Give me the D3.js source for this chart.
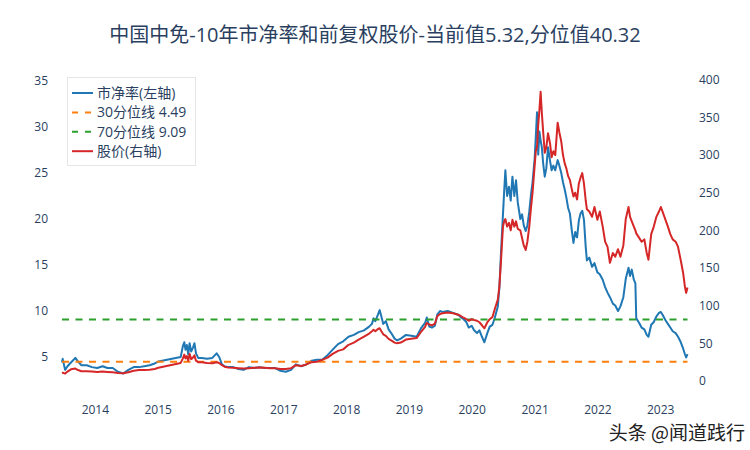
<!DOCTYPE html>
<html>
<head>
<meta charset="utf-8">
<script src="https://cdn.jsdelivr.net/npm/d3@7"></script>
<style>
  html, body { margin: 0; padding: 0; background: #fff; }
  svg { display: block; font-family: "Open Sans", "Noto Sans CJK SC", sans-serif; }
</style>
</head>
<body>
<svg id="chart" width="750" height="450"></svg>
<script>
// ---- data ----
const titleText = "中国中免-10年市净率和前复权股价-当前值5.32,分位值40.32";
const dates = [
"2013-06-24","2013-06-28","2013-07-05","2013-07-12","2013-07-26","2013-08-15","2013-09-10","2013-09-25","2013-10-15","2013-11-15","2013-12-15",
"2014-01-15","2014-02-15","2014-03-15","2014-04-15","2014-05-15","2014-06-15","2014-07-15","2014-08-15","2014-09-15","2014-10-15","2014-11-15","2014-12-15",
"2015-01-05","2015-05-15","2015-05-28","2015-06-05","2015-06-12","2015-06-20","2015-06-28","2015-07-06","2015-07-15","2015-07-25","2015-08-03","2015-08-12","2015-08-25","2015-09-15","2015-10-15","2015-11-15","2015-12-10","2015-12-25",
"2016-01-10","2016-01-25","2016-02-15","2016-03-15","2016-04-15","2016-05-15","2016-06-15","2016-07-15","2016-08-15","2016-09-15","2016-10-15","2016-11-15","2016-12-15",
"2017-01-15","2017-02-15","2017-03-15","2017-04-15","2017-05-15","2017-06-15","2017-07-15","2017-08-15","2017-09-15","2017-10-15","2017-11-15","2017-12-15",
"2018-01-15","2018-02-15","2018-03-15","2018-04-15","2018-05-15","2018-05-31","2018-06-10","2018-06-20","2018-07-05","2018-07-15","2018-07-25","2018-08-05","2018-08-20","2018-09-05","2018-09-20","2018-10-10","2018-10-25","2018-11-15","2018-12-15",
"2019-01-15","2019-02-15","2019-03-15","2019-04-05","2019-04-15","2019-04-30","2019-05-15","2019-06-01","2019-06-15","2019-07-01","2019-07-15","2019-08-15","2019-09-15","2019-10-15","2019-11-01","2019-11-15","2019-12-01","2019-12-15",
"2020-01-01","2020-01-15","2020-02-01","2020-02-15","2020-03-01","2020-03-15","2020-04-01","2020-04-15","2020-05-01","2020-05-15","2020-06-01","2020-06-10","2020-06-20","2020-07-01","2020-07-08","2020-07-15","2020-07-25","2020-08-05","2020-08-15","2020-08-25","2020-09-05","2020-09-15","2020-09-25","2020-10-10","2020-10-20","2020-10-30","2020-11-10","2020-11-20","2020-12-01","2020-12-10","2020-12-20",
"2021-01-01","2021-01-08","2021-01-15","2021-01-22","2021-01-29","2021-02-05","2021-02-12","2021-02-20","2021-03-01","2021-03-10","2021-03-20","2021-04-01","2021-04-10","2021-04-20","2021-05-01","2021-05-15","2021-05-25","2021-06-05","2021-06-15","2021-06-25","2021-07-05","2021-07-15","2021-07-25","2021-08-05","2021-08-15","2021-08-25","2021-09-05","2021-09-15","2021-09-25","2021-10-05","2021-10-15","2021-10-25","2021-11-01","2021-11-15","2021-12-01","2021-12-15",
"2022-01-01","2022-01-15","2022-02-01","2022-02-15","2022-03-01","2022-03-15","2022-04-01","2022-04-15","2022-05-01","2022-05-15","2022-06-01","2022-06-15","2022-07-01","2022-07-10","2022-07-20","2022-08-01","2022-08-10","2022-08-15","2022-09-01","2022-09-15","2022-10-01","2022-10-15","2022-10-25","2022-11-10","2022-11-25","2022-12-10","2022-12-25",
"2023-01-05","2023-01-15","2023-02-01","2023-02-15","2023-03-01","2023-03-15","2023-04-01","2023-04-15","2023-05-01","2023-05-15","2023-05-25","2023-06-01","2023-06-09"
];
const peValues = [
4.4,4.8,4.2,3.6,4.0,4.4,4.9,4.5,4.1,4.1,3.9,
3.8,4.0,3.8,3.8,3.4,3.2,3.6,3.9,3.9,4.0,4.1,4.3,
4.5,5.0,6.2,6.6,5.8,6.3,5.3,6.5,5.6,6.0,6.5,5.4,4.9,4.9,4.8,4.9,5.4,5.0,
4.2,4.0,3.9,3.9,3.7,3.6,3.9,3.8,3.9,3.8,3.8,3.8,3.5,
3.4,3.6,4.2,4.0,4.2,4.6,4.7,4.7,5.2,5.8,6.4,6.7,
7.2,7.4,7.7,7.9,8.3,8.6,9.2,8.9,9.6,10.1,9.4,8.6,8.9,8.0,7.6,7.0,6.8,7.0,7.4,
7.3,7.2,8.2,8.7,9.3,8.3,8.2,8.4,9.6,10.0,9.9,10.0,9.8,9.6,9.3,9.1,8.8,8.2,
8.4,7.9,7.6,7.9,7.2,6.6,7.6,8.3,8.5,9.3,10.5,12.5,16.5,20.5,23.0,25.3,22.5,23.5,22.0,24.6,22.5,24.2,21.8,20.0,20.5,19.3,18.7,19.3,20.8,22.5,24.0,
26.5,29.0,31.6,27.0,29.5,28.5,27.8,26.0,24.6,25.5,27.8,26.3,25.3,25.8,25.3,26.4,25.8,25.0,24.0,23.2,22.3,21.2,20.6,18.8,17.4,18.6,18.0,19.8,20.6,20.9,19.9,17.0,15.5,15.8,14.8,15.2,
14.2,14.0,13.4,12.6,12.0,11.5,10.8,10.6,10.0,10.5,11.5,13.5,14.7,13.8,14.5,13.4,13.0,9.2,8.7,8.2,8.0,7.4,7.2,8.5,8.8,9.4,9.8,
9.9,9.6,9.0,8.6,8.2,7.8,7.6,7.2,6.6,5.9,5.3,4.95,5.32
];
const priceValues = [
10.6,11.0,10.5,9.8,12.5,15.5,16.5,14.5,13.0,13.0,12.5,
12.0,12.5,12.0,11.5,10.6,10.3,11.5,13.5,14.5,14.6,15.0,16.0,
17.5,24.0,30.0,35.0,30.0,33.0,27.0,36.0,29.0,31.0,34.0,27.0,25.0,25.0,24.0,23.5,25.0,24.0,
21.0,19.0,18.0,17.5,17.0,16.5,17.0,17.5,18.0,17.5,17.0,17.0,16.0,
16.0,17.0,21.0,20.0,22.0,25.0,25.5,28.0,31.0,36.0,40.0,42.0,
48.0,51.0,55.0,59.0,63.0,66.0,68.0,66.0,69.0,70.0,66.0,62.0,60.0,56.0,54.0,51.0,50.0,51.0,55.0,
56.0,57.0,66.0,72.0,77.0,75.0,74.0,76.0,86.0,89.0,90.0,91.0,90.0,88.0,86.0,84.0,82.0,80.0,
82.0,81.0,80.0,78.0,74.0,70.0,78.0,82.0,85.0,96.0,108.0,125.0,161.0,205.0,212.0,215.0,205.0,210.0,200.0,214.0,205.0,212.0,202.0,200.0,190.0,180.0,174.0,185.0,205.0,228.0,250.0,
285.0,305.0,311.0,340.0,360.0,384.0,356.0,330.0,303.0,310.0,329.0,315.0,297.0,305.0,300.0,343.0,330.0,318.0,300.0,289.0,282.0,272.0,267.0,255.0,245.0,250.0,241.0,262.0,270.0,276.0,262.0,240.0,228.0,225.0,218.0,231.0,
214.0,225.0,205.0,185.0,178.0,157.0,170.0,165.0,175.0,165.0,180.0,215.0,231.0,218.0,212.0,205.0,200.0,196.0,190.0,185.0,188.0,170.0,161.0,195.0,205.0,218.0,225.0,
231.0,225.0,214.0,205.0,195.0,188.0,185.0,178.0,160.0,143.0,125.0,117.0,124.0
];
const quantileValues = [4.49, 9.09];
const leftTicks = [5, 10, 15, 20, 25, 30, 35];
const rightTicks = [0, 50, 100, 150, 200, 250, 300, 350, 400];
const legendLabels = ["市净率(左轴)", "30分位线 4.49", "70分位线 9.09", "股价(右轴)"];
const colors = { pe: "#1f77b4", q30: "#ff7f0e", q70: "#2ca02c", price: "#d62728" };

// ---- layout ----
const svg = d3.select("#chart");
const W = 750, H = 450;
const plot = { left: 62, right: 687.5, top: 65, bottom: 395 };
const parse = d3.timeParse("%Y-%m-%d");
const rows = dates.map((d, i) => ({ date: parse(d), pe: peValues[i], price: priceValues[i] }));

const x = d3.scaleTime()
  .domain(d3.extent(rows, d => d.date))
  .range([plot.left, plot.right]);
const yL = d3.scaleLinear().domain([0.87, 36.74]).range([plot.bottom, plot.top]);
const yR = d3.scaleLinear().domain([-18.6, 419.6]).range([plot.bottom, plot.top]);

svg.append("rect").attr("width", W).attr("height", H).attr("fill", "#fff");

// title
svg.append("text")
  .attr("x", 375).attr("y", 42)
  .attr("text-anchor", "middle")
  .attr("font-size", 20)
  .attr("fill", "#2a3f5f")
  .text(titleText);

const tickColor = "#2a3f5f";
// axes
const axL = svg.append("g").attr("transform", `translate(${plot.left},0)`)
  .call(d3.axisLeft(yL).tickValues(leftTicks).tickSize(0).tickPadding(14));
const axR = svg.append("g").attr("transform", `translate(${plot.right},0)`)
  .call(d3.axisRight(yR).tickValues(rightTicks).tickSize(0).tickPadding(11.5));
const years = d3.range(2014, 2024).map(y => new Date(y, 0, 1));
const axX = svg.append("g").attr("transform", `translate(0,${plot.bottom})`)
  .call(d3.axisBottom(x).tickValues(years).tickFormat(d3.timeFormat("%Y")).tickSize(0).tickPadding(10));
[axL, axR, axX].forEach(g => {
  g.select(".domain").remove();
  g.selectAll("text").attr("font-size", 12).attr("fill", tickColor)
    .attr("font-family", "\"Open Sans\", \"Noto Sans CJK SC\", sans-serif");
});

// series
const linePE = d3.line().x(d => x(d.date)).y(d => yL(d.pe));
const linePrice = d3.line().x(d => x(d.date)).y(d => yR(d.price));
const xExt = d3.extent(rows, d => d.date);

svg.append("path").datum(rows).attr("d", linePE)
  .attr("fill", "none").attr("stroke", colors.pe).attr("stroke-width", 2).attr("stroke-linejoin", "round");

const qColors = [colors.q30, colors.q70];
quantileValues.forEach((q, i) => {
  svg.append("path")
    .datum(xExt.map(d => ({ date: d, v: q })))
    .attr("d", d3.line().x(d => x(d.date)).y(d => yL(d.v)))
    .attr("fill", "none").attr("stroke", qColors[i]).attr("stroke-width", 2)
    .attr("stroke-dasharray", "7,6.5");
});

svg.append("path").datum(rows).attr("d", linePrice)
  .attr("fill", "none").attr("stroke", colors.price).attr("stroke-width", 2).attr("stroke-linejoin", "round");

// legend
const lg = svg.append("g");
lg.append("rect").attr("x", 67.5).attr("y", 77.5).attr("width", 128).attr("height", 88)
  .attr("fill", "#fff").attr("stroke", "#e6e6e6").attr("stroke-width", 1);
const legColors = [colors.pe, colors.q30, colors.q70, colors.price];
const legDash = [null, "6,7", "6,7", null];
legendLabels.forEach((lab, i) => {
  const yy = 93 + i * 19.4;
  lg.append("line").attr("x1", 72).attr("x2", 93).attr("y1", yy).attr("y2", yy)
    .attr("stroke", legColors[i]).attr("stroke-width", 2)
    .attr("stroke-dasharray", legDash[i]);
  lg.append("text").attr("x", 97).attr("y", yy).attr("dy", "0.35em")
    .attr("font-size", 14).attr("fill", tickColor).text(lab);
});

// watermark
svg.append("text")
  .attr("x", 745).attr("y", 440)
  .attr("text-anchor", "end")
  .attr("font-size", 19)
  .attr("font-family", "\"Noto Sans CJK SC\", sans-serif")
  .attr("fill", "#222")
  .attr("stroke", "#fff").attr("stroke-width", 3).attr("paint-order", "stroke")
  .text("头条 @闻道践行");
</script>
</body>
</html>
